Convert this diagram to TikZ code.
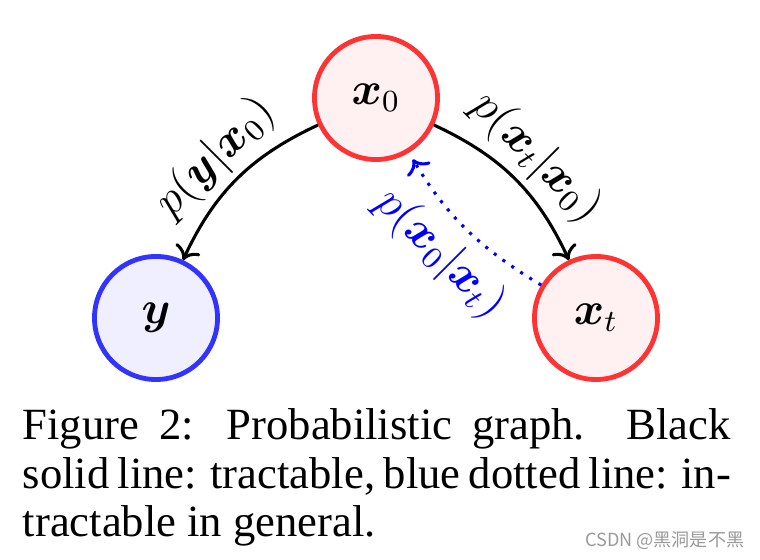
\documentclass[tikz,border=0pt]{standalone}
\usepackage{amsmath}
\usepackage{fontspec}
\setmainfont{Liberation Serif}
\newfontfamily\cjkfont{Noto Sans CJK SC}
\usetikzlibrary{arrows.meta}
\definecolor{varRed}{HTML}{FF3333}
\definecolor{varBlue}{HTML}{3333FF}
\definecolor{postBlue}{HTML}{0000FF}
\colorlet{markGrey}{black!40}

\begin{document}
\begin{tikzpicture}[x=0.26pt, y=0.26pt,
  var/.style={circle, line width=1.25pt, minimum size=32pt, inner sep=0pt,
              font=\fontsize{12}{14}\selectfont},
  latent/.style={var, draw=varRed, fill=varRed!7},
  observed/.style={var, draw=varBlue, fill=varBlue!8},
  edgelbl/.style={font=\fontsize{12}{14}\selectfont, sloped, inner sep=1.5pt},
  forward/.style={->, thick},
  reverse/.style={->, thick, dotted, postBlue}]

\useasboundingbox (0,0) rectangle (760,560);

% graph
\node[latent] (x0) at (376,462) {$\boldsymbol{x}_0$};
\node[observed] (y) at (156,242) {$\boldsymbol{y}$};
\node[latent] (xt) at (596,242) {$\boldsymbol{x}_t$};

\draw[forward] (x0) to[bend right=20]
  node[edgelbl, above] (lxy) {$p(\boldsymbol{y}|\boldsymbol{x}_0)$} (y);
\draw[forward] (x0) to[bend left=20]
  node[edgelbl, above] (lfwd) {$p(\boldsymbol{x}_t|\boldsymbol{x}_0)$} (xt);
\draw[reverse, shorten >=2pt] (xt) to[bend left=14]
  node[edgelbl, below, inner sep=3pt, text=postBlue] (lrev) {$p(\boldsymbol{x}_0|\boldsymbol{x}_t)$} (x0);

% caption
\node[anchor=base west, text width=184.1pt, align=justify, inner sep=0pt,
      font=\fontsize{11.6}{12.6}\selectfont] (caption) at (22,120)
  {Figure 2: Probabilistic graph. Black\linebreak
   solid line: tractable, blue dotted line: in-\linebreak
   tractable in general.};

\node[anchor=base east, inner sep=0pt, text=markGrey,
      font=\cjkfont\fontsize{4.7}{5}\selectfont] (mark) at (745,13)
  {CSDN @黑洞是不黑};
\end{tikzpicture}
\end{document}
